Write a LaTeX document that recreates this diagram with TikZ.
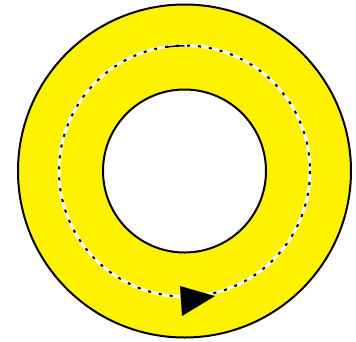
\documentclass[tikz,border=0pt]{standalone}
\begin{document}
\begin{tikzpicture}[x=1pt,y=-1pt,
  ring/.style={draw=black,line width=2pt},
  track/.style={draw=white,line width=3pt},
  trackdash/.style={draw=black,line width=2pt,dash pattern=on 3pt off 8pt},
  tip/.style={fill=black,draw=none}]
\useasboundingbox (0,0) rectangle (356,341);
\coordinate (c) at (184.5,171);
\fill[yellow,even odd rule] (c) circle (166.5) (c) circle (81.5);
\draw[ring] (c) circle (166.5);
\draw[ring] (c) circle (81.5);
\draw[track] (c) circle (125.5);
\draw[trackdash] (c) circle (125.5);
\draw[draw=black,line width=1.5pt] (c) ++(262:125.2) arc (262:270:125.2) coordinate (base);
\fill[tip] (180,286) -- (215,296) -- (182,316) -- cycle;
\end{tikzpicture}
\end{document}
